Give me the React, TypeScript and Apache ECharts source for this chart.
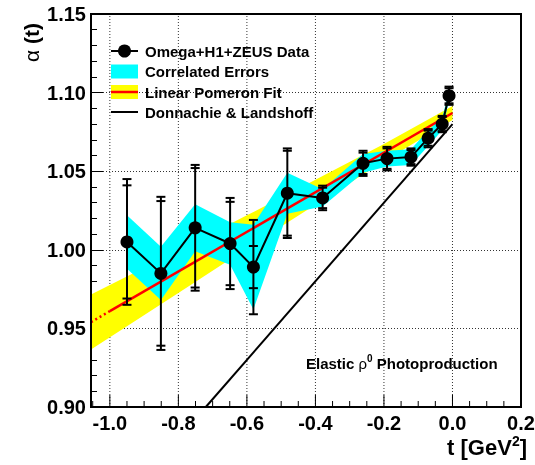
import React, { useEffect, useRef } from "react";
import * as echarts from "echarts";

// ---- data ----
const T = [-0.95, -0.851, -0.751, -0.649, -0.581, -0.482, -0.379, -0.261, -0.191, -0.121, -0.071, -0.03, -0.01];
const A = [1.005, 0.985, 1.014, 1.004, 0.989, 1.036, 1.033, 1.055, 1.058, 1.059, 1.071, 1.08, 1.098];
const E_STAT = [0.036, 0.046, 0.038, 0.0265, 0.0134, 0.027, 0.0065, 0.0068, 0.0065, 0.0045, 0.0048, 0.0045, 0.0048];
const E_TOT = [0.04, 0.0487, 0.04, 0.029, 0.03, 0.0285, 0.0078, 0.008, 0.0075, 0.0055, 0.0058, 0.0052, 0.0058];
const CORR = [0.017, 0.017, 0.015, 0.0135, 0.027, 0.013, 0.0055, 0.006, 0.005, 0.005, 0.005, 0.004, 0.003];

const FIT_T = [-1.0, 0.0];
const FIT_A = [0.961, 1.087];
const FIT_EXT_T = [-1.055, -1.0];
const FIT_EXT_A = [0.954, 0.961];

const BAND_T = [-1.055, -0.8, -0.6, -0.4, -0.2, 0.0];
const BAND_HI = [0.9715, 0.9995, 1.0219, 1.0446, 1.0673, 1.0915];
const BAND_LO = [0.9365, 0.9725, 1.0009, 1.0286, 1.0563, 1.0825];

const DL_T = [-0.72, 0.0];
const DL_A = [0.9, 1.08];

const X_MIN = -1.055;
const X_MAX = 0.2;
const Y_MIN = 0.9;
const Y_MAX = 1.15;
const X_MAJOR = [-1.0, -0.8, -0.6, -0.4, -0.2, 0.0, 0.2];
const X_MINOR = [-1.05, -0.95, -0.9, -0.85, -0.75, -0.7, -0.65, -0.55, -0.5, -0.45, -0.35, -0.3, -0.25, -0.15, -0.1, -0.05, 0.05, 0.1, 0.15];

const LEGEND = ["Omega+H1+ZEUS Data", "Correlated Errors", "Linear Pomeron Fit", "Donnachie & Landshoff"];

const FONT = "Liberation Sans";

export default function App() {
  const ref = useRef<HTMLDivElement>(null);
  useEffect(() => {
    const chart = echarts.init(ref.current!, null, { renderer: "svg" });
    const G = { left: 91, top: 14, width: 430, height: 393 };
    const legendY = [51, 71.5, 92, 112];
    const option: any = {
      animation: false,
      grid: { left: G.left, top: G.top, width: G.width, height: G.height, show: false },
      xAxis: {
        type: "value",
        min: X_MIN,
        max: X_MAX,
        axisLine: { show: false, onZero: false },
        axisTick: { show: false },
        axisLabel: { show: false },
        splitLine: { show: false },
      },
      yAxis: {
        type: "value",
        min: Y_MIN,
        max: Y_MAX,
        interval: 0.05,
        position: "left",
        axisLine: { show: true, onZero: false, lineStyle: { color: "#000", width: 2 } },
        axisTick: { show: true, inside: true, length: 12, lineStyle: { color: "#000", width: 1 } },
        minorTick: { show: true, splitNumber: 5, length: 6, lineStyle: { color: "#000", width: 1 } },
        axisLabel: {
          formatter: (v: number) => v.toFixed(2),
          fontSize: 20,
          fontWeight: "bold",
          fontFamily: FONT,
          color: "#000",
          margin: 5,
        },
        splitLine: { show: true, lineStyle: { color: "#333", width: 1, type: [1, 2] } },
      },
      series: [
        {
          type: "custom",
          silent: true,
          z: 1,
          data: X_MAJOR.map((t) => [t, Y_MIN]),
          renderItem: (params: any, api: any) => {
            const t = api.value(0);
            const b = api.coord([t, Y_MIN]);
            const tp = api.coord([t, Y_MAX]);
            return {
              type: "group",
              children: [
                { type: "line", shape: { x1: b[0], y1: b[1], x2: tp[0], y2: tp[1] }, style: { stroke: "#333", lineWidth: 1, lineDash: [1, 2] } },
                { type: "line", shape: { x1: b[0], y1: b[1], x2: b[0], y2: b[1] - 12 }, style: { stroke: "#000", lineWidth: 1 } },
                {
                  type: "text",
                  x: b[0],
                  y: b[1] + 16,
                  style: { text: t.toFixed(1), align: "center", verticalAlign: "middle", fontSize: 20, fontWeight: "bold", fontFamily: FONT, fill: "#000" },
                },
              ],
            };
          },
        },
        {
          type: "custom",
          silent: true,
          z: 1,
          data: X_MINOR.map((t) => [t, Y_MIN]),
          renderItem: (params: any, api: any) => {
            const b = api.coord([api.value(0), Y_MIN]);
            return { type: "line", shape: { x1: b[0], y1: b[1], x2: b[0], y2: b[1] - 6 }, style: { stroke: "#000", lineWidth: 1 } };
          },
        },
        {
          type: "custom",
          silent: true,
          z: 2,
          data: [[BAND_T[0], BAND_HI[0]]],
          renderItem: (params: any, api: any) => {
            const up = BAND_T.map((t, i) => api.coord([t, BAND_HI[i]]));
            const dn = BAND_T.map((t, i) => api.coord([t, BAND_LO[i]])).reverse();
            return { type: "polygon", shape: { points: up.concat(dn) }, style: { fill: "#ffff00" } };
          },
        },
        {
          type: "custom",
          silent: true,
          z: 3,
          data: [[T[0], A[0]]],
          renderItem: (params: any, api: any) => {
            const up = T.map((t, i) => api.coord([t, A[i] + CORR[i]]));
            const dn = T.map((t, i) => api.coord([t, A[i] - CORR[i]])).reverse();
            return { type: "polygon", shape: { points: up.concat(dn) }, style: { fill: "#00ffff" } };
          },
        },
        {
          type: "line",
          z: 4,
          silent: true,
          symbol: "none",
          data: FIT_EXT_T.map((t, i) => [t, FIT_EXT_A[i]]),
          lineStyle: { color: "#ff0000", width: 2.5, type: [2, 3] },
        },
        {
          type: "line",
          z: 4,
          silent: true,
          symbol: "none",
          data: FIT_T.map((t, i) => [t, FIT_A[i]]),
          lineStyle: { color: "#ff0000", width: 2.5 },
        },
        {
          type: "line",
          z: 4,
          silent: true,
          symbol: "none",
          data: DL_T.map((t, i) => [t, DL_A[i]]),
          lineStyle: { color: "#000", width: 2 },
        },
        {
          type: "custom",
          silent: true,
          z: 5,
          data: T.map((t, i) => [t, A[i], E_STAT[i], E_TOT[i]]),
          renderItem: (params: any, api: any) => {
            const t = api.value(0);
            const a = api.value(1);
            const es = api.value(2);
            const et = api.value(3);
            const hi = api.coord([t, a + et]);
            const lo = api.coord([t, a - et]);
            const his = api.coord([t, a + es]);
            const los = api.coord([t, a - es]);
            const w = 4.5;
            const st = { stroke: "#000", lineWidth: 2 };
            const cap = (p: number[]) => ({ type: "line", shape: { x1: p[0] - w, y1: p[1], x2: p[0] + w, y2: p[1] }, style: st });
            return {
              type: "group",
              children: [
                { type: "line", shape: { x1: hi[0], y1: hi[1], x2: lo[0], y2: lo[1] }, style: st },
                cap(hi),
                cap(lo),
                cap(his),
                cap(los),
              ],
            };
          },
        },
        {
          type: "line",
          z: 6,
          silent: true,
          data: T.map((t, i) => [t, A[i]]),
          symbol: "circle",
          symbolSize: 13,
          itemStyle: { color: "#000" },
          lineStyle: { color: "#000", width: 2 },
        },
      ],
      graphic: [
        {
          type: "rect",
          z: 100,
          silent: true,
          shape: { x: G.left, y: G.top, width: G.width, height: G.height },
          style: { fill: "none", stroke: "#000", lineWidth: 2 },
        },
        // legend
        { type: "line", z: 100, shape: { x1: 111, y1: legendY[0], x2: 138, y2: legendY[0] }, style: { stroke: "#000", lineWidth: 2 } },
        { type: "circle", z: 100, shape: { cx: 124.5, cy: legendY[0], r: 6.5 }, style: { fill: "#000" } },
        { type: "rect", z: 100, shape: { x: 111, y: legendY[1] - 7, width: 27, height: 14 }, style: { fill: "#00ffff" } },
        { type: "rect", z: 100, shape: { x: 111, y: legendY[2] - 7, width: 27, height: 14 }, style: { fill: "#ffff00" } },
        { type: "line", z: 100, shape: { x1: 111, y1: legendY[2], x2: 138, y2: legendY[2] }, style: { stroke: "#ff0000", lineWidth: 2.5 } },
        { type: "line", z: 100, shape: { x1: 111, y1: legendY[3], x2: 138, y2: legendY[3] }, style: { stroke: "#000", lineWidth: 2 } },
        ...LEGEND.map((s, i) => ({
          type: "text",
          z: 100,
          x: 145,
          y: legendY[i],
          style: { text: s, align: "left", verticalAlign: "middle", fontSize: 15, fontWeight: "bold", fontFamily: FONT, fill: "#000" },
        })),
        {
          type: "text",
          z: 100,
          x: 306,
          y: 363,
          style: {
            text: "{b|Elastic }{r|ρ}{s|0}{b| Photoproduction}",
            align: "left",
            verticalAlign: "middle",
            rich: {
              b: { fontSize: 15, fontWeight: "bold", fontFamily: FONT, fill: "#000", lineHeight: 20 },
              r: { fontSize: 15, fontWeight: "normal", fontFamily: FONT, fill: "#000", lineHeight: 20 },
              s: { fontSize: 10, fontWeight: "bold", fontFamily: FONT, fill: "#000", lineHeight: 10, verticalAlign: "top" },
            },
          },
        },
        {
          type: "text",
          z: 100,
          x: 527,
          y: 447,
          style: {
            text: "{b|t [GeV}{s|2}{b|]}",
            align: "right",
            verticalAlign: "middle",
            rich: {
              b: { fontSize: 22, fontWeight: "bold", fontFamily: FONT, fill: "#000", lineHeight: 26 },
              s: { fontSize: 14, fontWeight: "bold", fontFamily: FONT, fill: "#000", lineHeight: 14, verticalAlign: "top" },
            },
          },
        },
        {
          type: "text",
          z: 100,
          x: 31,
          y: 23,
          rotation: Math.PI / 2,
          style: {
            text: "{r|α }{b|(t)}",
            align: "right",
            verticalAlign: "middle",
            rich: {
              r: { fontSize: 21, fontWeight: "normal", fontFamily: FONT, fill: "#000" },
              b: { fontSize: 21, fontWeight: "bold", fontFamily: FONT, fill: "#000" },
            },
          },
        },
      ],
    };
    chart.setOption(option);
    return () => chart.dispose();
  }, []);
  return <div ref={ref} style={{ position: "fixed", left: 0, top: 0, width: 535, height: 465 }} />;
}
